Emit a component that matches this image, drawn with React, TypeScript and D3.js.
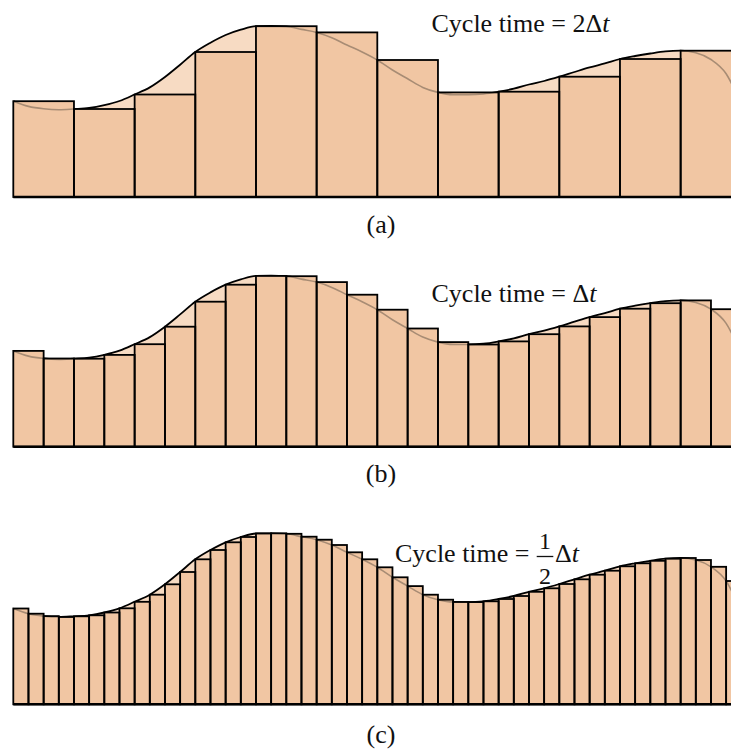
import React from "react";
import * as d3 from "d3";

// Continuous signal, read at half-Δt intervals (height units above the baseline)
const signalSamples: number[] = [
  95.8, 90.6, 88.2, 87.3, 88, 89, 91.8, 96, 102.5, 109.6, 120, 132.3,
  145, 154.3, 162, 167.3, 170.8, 171, 170.5, 167.6, 164.6, 159.3, 152, 145,
  137, 127, 118.2, 109.6, 104.6, 102.3, 102.2, 103, 105.3, 108.3, 112.5, 116,
  120.3, 125, 129.6, 133.6, 138, 141, 143.5, 145.6, 146.3, 144.3, 137.5, 123.3,
  92,
];

// Held sample values for each panel
const barsA: number[] = [95.8, 88, 102.5, 145, 170.8, 164.6, 137, 104.6, 105.3, 120.3, 138, 146.3];
const barsB: number[] = [
  95.8, 88.2, 88, 91.8, 102.5, 120, 145, 162, 170.8, 170.5, 164.6, 152,
  137, 118.2, 104.6, 102.2, 105.3, 112.5, 120.3, 129.6, 138, 143.5, 146.3, 137.5,
];
const barsC: number[] = [
  95.8, 90.6, 88.2, 87.3, 88, 89, 91.8, 96, 102.5, 109.6, 120, 132.3,
  145, 154.3, 162, 167.3, 170.8, 171, 170.5, 167.6, 164.6, 159.3, 152, 145,
  137, 127, 118.2, 109.6, 104.6, 102.3, 102.2, 103, 105.3, 108.3, 112.5, 116,
  120.3, 125, 129.6, 133.6, 138, 141, 143.5, 145.6, 146.3, 144.3, 137.5, 123.3,
];

const panelLabels: string[] = ["(a)", "(b)", "(c)"];

const W = 731;
const H = 749;
const LIGHT = "#F7DBC3";
const BAR = "#F1C6A3";
const HIDDEN_LINE = "#A88C74";
const FONT = "'Liberation Serif', 'Times New Roman', serif";

const xScale = d3.scaleLinear().domain([0, signalSamples.length - 1]).range([13.3, 741.3]);

type PanelProps = { id: string; bars: number[]; baseline: number; label: string; labelY: number; caption: React.ReactNode };

function Panel({ id, bars, baseline, label, labelY, caption }: PanelProps) {
  const y = d3.scaleLinear().domain([0, 180]).range([baseline, baseline - 180]);
  const step = (signalSamples.length - 1) / bars.length;
  const pts = signalSamples.map((v, i) => [i, v] as [number, number]);
  const area = d3
    .area<[number, number]>()
    .x((d) => xScale(d[0]))
    .y0(y(0))
    .y1((d) => y(d[1]))
    .curve(d3.curveMonotoneX);
  const line = d3
    .line<[number, number]>()
    .x((d) => xScale(d[0]))
    .y((d) => y(d[1]))
    .curve(d3.curveMonotoneX);
  const rects = bars.map((v, i) => ({
    x: xScale(i * step),
    w: xScale((i + 1) * step) - xScale(i * step),
    y: y(v),
    h: y(0) - y(v),
  }));
  return (
    <g>
      <defs>
        <clipPath id={`clip-${id}`}>
          {rects.map((r, i) => (
            <rect key={i} x={r.x} y={r.y} width={r.w} height={r.h} />
          ))}
        </clipPath>
      </defs>
      <path d={area(pts) || ""} fill={LIGHT} stroke="none" />
      <path d={line(pts) || ""} fill="none" stroke="#000" strokeWidth={1.8} />
      {rects.map((r, i) => (
        <rect key={i} x={r.x} y={r.y} width={r.w} height={r.h} fill={BAR} stroke="none" />
      ))}
      <path d={line(pts) || ""} fill="none" stroke={HIDDEN_LINE} strokeWidth={1.6} clipPath={`url(#clip-${id})`} />
      {rects.map((r, i) => (
        <rect key={i} x={r.x} y={r.y} width={r.w} height={r.h} fill="none" stroke="#000" strokeWidth={1.8} />
      ))}
      <line x1={xScale(0)} x2={W} y1={y(0)} y2={y(0)} stroke="#000" strokeWidth={2.4} />
      {caption}
      <text x={381} y={labelY} textAnchor="middle" fontFamily={FONT} fontSize={26} fill="#111">
        {label}
      </text>
    </g>
  );
}

export default function App() {
  return (
    <svg width={W} height={H} style={{ position: "absolute", left: 0, top: 0, background: "#fff" }}>
      <Panel
        id="a"
        bars={barsA}
        baseline={197}
        label={panelLabels[0]}
        labelY={233}
        caption={
          <text x={431.5} y={32} fontFamily={FONT} fontSize={26} fill="#111">
            Cycle time = 2Δ<tspan fontStyle="italic">t</tspan>
          </text>
        }
      />
      <Panel
        id="b"
        bars={barsB}
        baseline={446.7}
        label={panelLabels[1]}
        labelY={482}
        caption={
          <text x={431.5} y={301.7} fontFamily={FONT} fontSize={26} fill="#111">
            Cycle time = Δ<tspan fontStyle="italic">t</tspan>
          </text>
        }
      />
      <Panel
        id="c"
        bars={barsC}
        baseline={704.3}
        label={panelLabels[2]}
        labelY={742.5}
        caption={
          <g fontFamily={FONT} fill="#111">
            <text x={395} y={562.3} fontSize={26}>
              Cycle time =
            </text>
            <text x={545} y={549} fontSize={24} textAnchor="middle">1</text>
            <line x1={536.7} x2={553.3} y1={556.5} y2={556.5} stroke="#111" strokeWidth={1.3} />
            <text x={545} y={584} fontSize={24} textAnchor="middle">2</text>
            <text x={555} y={562.3} fontSize={26}>
              Δ<tspan fontStyle="italic">t</tspan>
            </text>
          </g>
        }
      />
    </svg>
  );
}
